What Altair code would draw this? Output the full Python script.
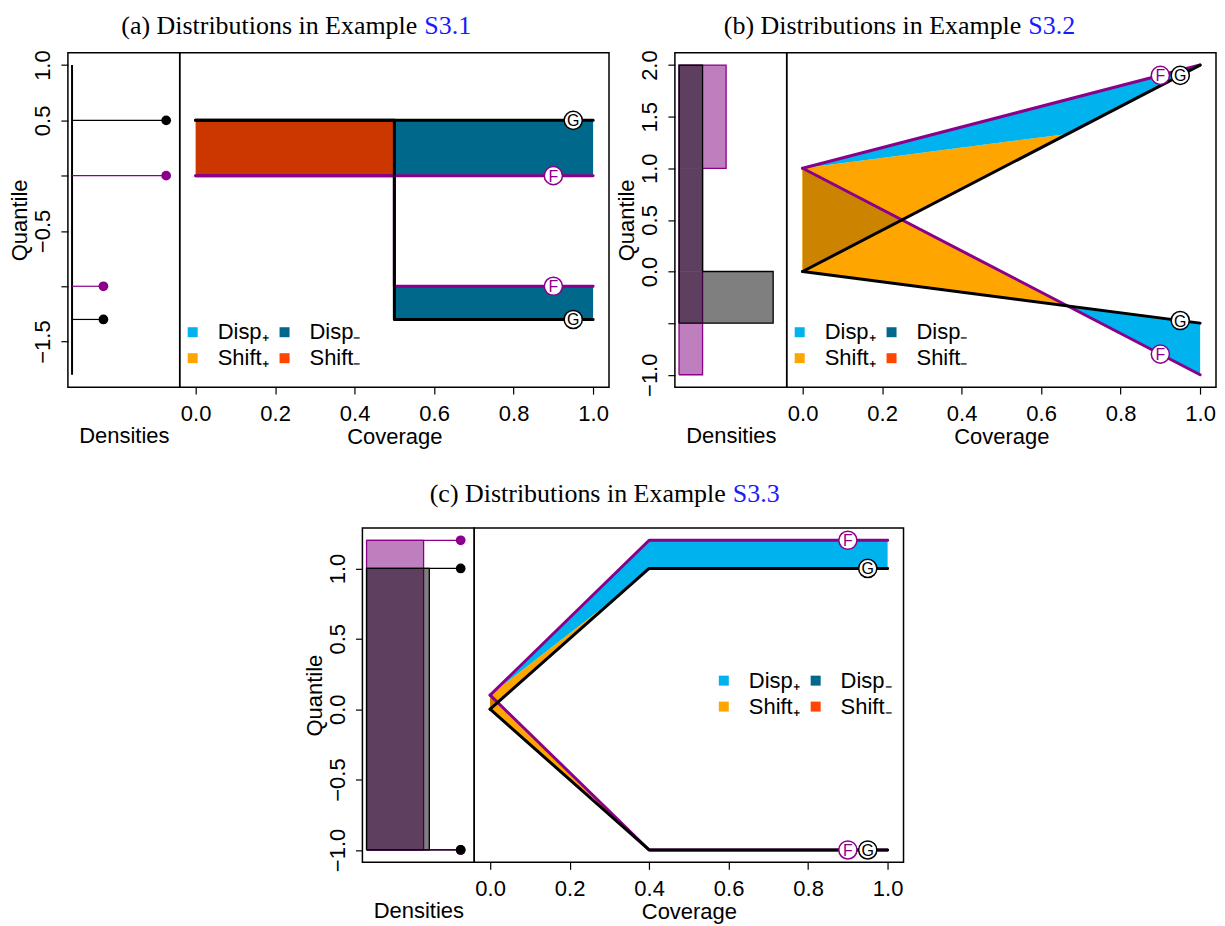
import altair as alt
import pandas as pd

FONT = "Liberation Sans"
SERIF = "Liberation Serif"
PURPLE = "#8b008b"
FILL_PURPLE = "#800080"
BLACK = "#000000"
BLUE = "#1a1aff"

KIND_NAMES = ["Disp₊", "Disp₋", "Shift₊", "Shift₋", "Shift₊ both", "Shift₋ both"]
KIND_COLORS = ["#00b2ee", "#00688b", "#ffa500", "#ff4500", "#cc8400", "#cc3700"]
LEGEND_KEYS = ["Disp₊", "Disp₋", "Shift₊", "Shift₋"]

COV_TICKS = [0.0, 0.2, 0.4, 0.6, 0.8, 1.0]
COV_DOMAIN = [-0.04, 1.04]
F_LABEL_COV = 0.9
G_LABEL_COV = 0.95

# ---------------- Panel (a) ----------------
A_TITLE = "(a) Distributions in Example"
A_REF = "S3.1"
A_YDOMAIN = [-1.912, 1.112]
A_YTICKS = [-1.5, -1.0, -0.5, 0.0, 0.5, 1.0]
A_YHIDDEN = [-1.0, 0.0]
A_F_CURVES = [([0, 1], [0, 0]), ([0, 0.5, 0.5, 1], [0, 0, -1, -1])]
A_G_CURVES = [([0, 1], [0.5, 0.5]), ([0, 0.5, 0.5, 1], [0.5, 0.5, -1.3, -1.3])]
A_REGIONS = [
    ("Shift₋ both", [0, 0.5], [0, 0], [0.5, 0.5]),
    ("Disp₋", [0.5, 1], [0, 0], [0.5, 0.5]),
    ("Disp₋", [0.5, 1], [-1.3, -1.3], [-1, -1]),
]
A_F_LABEL_Q = [0, -1]
A_G_LABEL_Q = [0.5, -1.3]
A_DENS_MAX = 0.825
A_BASELINE = [-1.8, 1.0]
A_F_ATOMS = [0.0, -1.0]
A_F_MASS = [0.75, 0.25]
A_G_ATOMS = [0.5, -1.3]
A_G_MASS = [0.75, 0.25]

# ---------------- Panel (b) ----------------
B_TITLE = "(b) Distributions in Example"
B_REF = "S3.2"
B_YDOMAIN = [-1.12, 2.12]
B_YTICKS = [-1.0, -0.5, 0.0, 0.5, 1.0, 1.5, 2.0]
B_YHIDDEN = [-0.5]
B_F_CURVES = [([0, 1], [1, 2]), ([0, 1], [1, -1])]
B_G_CURVES = [([0, 1], [0, 2]), ([0, 1], [0, -0.5])]
B_REGIONS = [
    ("Shift₊", [0, 2 / 3], [0, 4 / 3], [1, 4 / 3]),
    ("Shift₊", [0, 2 / 3], [0, -1 / 3], [1, -1 / 3]),
    ("Shift₊ both", [0, 0.25], [0, 0.5], [1, 0.5]),
    ("Disp₊", [0, 2 / 3, 1], [1, 4 / 3, 2], [1, 5 / 3, 2]),
    ("Disp₊", [2 / 3, 1], [-1 / 3, -1], [-1 / 3, -0.5]),
]
B_F_LABEL_Q = [1.9, -0.8]
B_G_LABEL_Q = [1.9, -0.475]
B_DENS_MAX = 1.1
B_F_BLOCKS = [(-1.0, 1.0, 0.25), (1.0, 2.0, 0.5)]
B_G_BLOCKS = [(-0.5, 0.0, 1.0), (0.0, 2.0, 0.25)]

# ---------------- Panel (c) ----------------
C_TITLE = "(c) Distributions in Example"
C_REF = "S3.3"
C_YDOMAIN = [-1.088, 1.288]
C_YTICKS = [-1.0, -0.5, 0.0, 0.5, 1.0]
C_YHIDDEN = []
C_F_CURVES = [([0, 0.4, 1], [0.1, 1.2, 1.2]), ([0, 0.4, 1], [0.1, -1, -1])]
C_G_CURVES = [([0, 0.4, 1], [0, 1, 1]), ([0, 0.4, 1], [0, -1, -1])]
C_REGIONS = [
    ("Shift₊", [0, 1 / 3], [0, 5 / 6], [0.1, 5 / 6]),
    ("Shift₊", [0, 0.4], [0, -1], [0.1, -1]),
    ("Shift₊ both", [0, 0.019], [0, 0.048], [0.1, 0.048]),
    ("Disp₊", [0, 1 / 3, 0.4, 1], [0.1, 5 / 6, 1.0, 1.0], [0.1, 1.017, 1.2, 1.2]),
]
C_F_LABEL_Q = [1.2, -1]
C_G_LABEL_Q = [1.0, -1]
C_DENS_MAX = 0.33
C_F_BLOCKS = [(-1.0, 1.2, 0.1818)]
C_G_BLOCKS = [(-1.0, 1.0, 0.2)]
C_F_ATOMS = [1.2, -1.0]
C_F_MASS = [0.3, 0.3]
C_G_ATOMS = [1.0, -1.0]
C_G_MASS = [0.3, 0.3]

DENS_W = 112
COV_W = 430
PANEL_H = 335
TITLE_SIZE = 26
AXIS_SIZE = 22


def yscale(ydom):
    return alt.Scale(domain=ydom, nice=False, zero=False)


def cov_chart(title, ref, title_xy, ydom, regions, f_curves, g_curves, f_lab, g_lab, legend_xy):
    xsc = alt.Scale(domain=COV_DOMAIN, nice=False, zero=False)
    xax = alt.Axis(values=COV_TICKS, format=".1f", title="Coverage", tickSize=7,
                   labelPadding=9, titlePadding=2, domain=False, grid=False,
                   labelFlush=False, labelOverlap=False)

    def X(f):
        return alt.X(f, scale=xsc, axis=xax)

    def Y(f):
        return alt.Y(f, scale=yscale(ydom), axis=None)

    rows = []
    for ri, (kind, cov, lo, hi) in enumerate(regions):
        for c, l, h in zip(cov, lo, hi):
            rows.append({"region": ri, "kind": kind, "cov": c, "lo": l, "hi": h})
    areas = alt.Chart(pd.DataFrame(rows)).mark_area(opacity=1, strokeWidth=0).encode(
        x=X("cov:Q"), y=Y("lo:Q"), y2="hi:Q",
        color=alt.Color("kind:N",
                        scale=alt.Scale(domain=KIND_NAMES, range=KIND_COLORS),
                        legend=alt.Legend(values=LEGEND_KEYS, title=None, columns=2,
                                          direction="horizontal", orient="none",
                                          legendX=legend_xy[0], legendY=legend_xy[1],
                                          symbolType="square", symbolSize=100,
                                          symbolStrokeWidth=0,
                                          labelFontSize=AXIS_SIZE, labelFont=FONT,
                                          labelOffset=14, columnPadding=4,
                                          rowPadding=4)),
        detail="region:N")

    def lines(curves, color):
        rr = []
        for si, (cov, q) in enumerate(curves):
            for i, (c, v) in enumerate(zip(cov, q)):
                rr.append({"seg": si, "i": i, "cov": c, "q": v})
        return alt.Chart(pd.DataFrame(rr)).mark_line(
            color=color, strokeWidth=3, strokeCap="round", strokeJoin="round").encode(
            x=X("cov:Q"), y=Y("q:Q"), detail="seg:N", order="i:Q")

    def labels(cov, qs, letter, color):
        df = pd.DataFrame({"cov": [cov] * len(qs), "q": qs})
        circ = alt.Chart(df).mark_circle(size=330, fill="white", stroke=color,
                                         strokeWidth=1.5, opacity=1).encode(
            x=X("cov:Q"), y=Y("q:Q"))
        txt = alt.Chart(df).mark_text(text=letter, color=color, fontSize=16, font=FONT,
                                      align="center", baseline="middle", dy=1).encode(
            x=X("cov:Q"), y=Y("q:Q"))
        return circ + txt

    tdf = pd.DataFrame({"t": [title], "r": [ref]})
    t1 = alt.Chart(tdf).mark_text(align="right", baseline="top", font=SERIF,
                                  fontSize=TITLE_SIZE, color=BLACK).encode(
        text="t:N", x=alt.value(title_xy[0]), y=alt.value(title_xy[1]))
    t2 = alt.Chart(tdf).mark_text(align="left", baseline="top", font=SERIF,
                                  fontSize=TITLE_SIZE, color=BLUE).encode(
        text="r:N", x=alt.value(title_xy[0] + 7), y=alt.value(title_xy[1]))

    return alt.layer(
        areas,
        lines(f_curves, PURPLE),
        lines(g_curves, BLACK),
        labels(F_LABEL_COV, f_lab, "F", PURPLE),
        labels(G_LABEL_COV, g_lab, "G", BLACK),
        t1, t2,
    ).properties(width=COV_W, height=PANEL_H)


def dens_chart(ydom, yticks, hidden, dmax, layers_spec):
    xsc = alt.Scale(domain=[-0.04 * dmax, 1.04 * dmax], nice=False, zero=False)
    xax = alt.Axis(title="Densities", labels=False, ticks=False, domain=False,
                   grid=False, titlePadding=38)
    cond = " || ".join(f"datum.value == {h}" for h in hidden) or "false"
    yax = alt.Axis(values=yticks,
                   labelExpr=f"({cond}) ? '' : replace(format(datum.value, '.1f'), '-', '\u2212')",
                   labelAngle=270, labelAlign="center", labelBaseline="alphabetic",
                   tickSize=7, labelPadding=11, title="Quantile", titlePadding=0,
                   grid=False, domain=False, labelFlush=False, labelOverlap=False)

    def X(f):
        return alt.X(f, scale=xsc, axis=xax)

    def Y(f):
        return alt.Y(f, scale=yscale(ydom), axis=yax)

    layers = []
    for kind, color, payload in layers_spec:
        if kind == "blocks":
            df = pd.DataFrame([{"x0": 0.0, "x1": d, "lo": lo, "hi": hi} for lo, hi, d in payload])
            fill = FILL_PURPLE if color == PURPLE else BLACK
            layers.append(alt.Chart(df).mark_rect(color=fill, opacity=0.5, strokeWidth=0).encode(
                x=X("x0:Q"), x2="x1:Q", y=Y("lo:Q"), y2="hi:Q"))
            # step outline built from the blocks
            pts = [(0.0, payload[0][0])]
            for lo, hi, d in payload:
                pts.append((d, lo))
                pts.append((d, hi))
            pts.append((0.0, payload[-1][1]))
            pts.append((0.0, payload[0][0]))
            odf = pd.DataFrame([{"i": i, "d": p[0], "q": p[1]} for i, p in enumerate(pts)])
            layers.append(alt.Chart(odf).mark_line(color=color, strokeWidth=1.3).encode(
                x=X("d:Q"), y=Y("q:Q"), order="i:Q"))
        elif kind == "atoms":
            atoms, mass = payload
            df = pd.DataFrame({"x0": [0.0] * len(atoms), "mass": mass, "atom": atoms})
            layers.append(alt.Chart(df).mark_rule(color=color, strokeWidth=1.2).encode(
                x=X("x0:Q"), x2="mass:Q", y=Y("atom:Q")))
            layers.append(alt.Chart(df).mark_circle(color=color, size=95, opacity=1).encode(
                x=X("mass:Q"), y=Y("atom:Q")))
        elif kind == "baseline":
            df = pd.DataFrame({"x0": [0.0], "lo": [payload[0]], "hi": [payload[1]]})
            layers.append(alt.Chart(df).mark_rule(color=color, strokeWidth=2).encode(
                x=X("x0:Q"), y=Y("lo:Q"), y2="hi:Q"))
    return alt.layer(*layers).properties(width=DENS_W, height=PANEL_H)


densA = dens_chart(A_YDOMAIN, A_YTICKS, A_YHIDDEN, A_DENS_MAX, [
    ("baseline", BLACK, A_BASELINE),
    ("atoms", PURPLE, (A_F_ATOMS, A_F_MASS)),
    ("atoms", BLACK, (A_G_ATOMS, A_G_MASS)),
])
covA = cov_chart(A_TITLE, A_REF, (238, -40), A_YDOMAIN, A_REGIONS, A_F_CURVES, A_G_CURVES,
                 A_F_LABEL_Q, A_G_LABEL_Q, (2, 269))

densB = dens_chart(B_YDOMAIN, B_YTICKS, B_YHIDDEN, B_DENS_MAX, [
    ("blocks", PURPLE, B_F_BLOCKS),
    ("blocks", BLACK, B_G_BLOCKS),
])
covB = cov_chart(B_TITLE, B_REF, (235, -40), B_YDOMAIN, B_REGIONS, B_F_CURVES, B_G_CURVES,
                 B_F_LABEL_Q, B_G_LABEL_Q, (2, 269))

densC = dens_chart(C_YDOMAIN, C_YTICKS, C_YHIDDEN, C_DENS_MAX, [
    ("blocks", PURPLE, C_F_BLOCKS),
    ("blocks", BLACK, C_G_BLOCKS),
    ("atoms", PURPLE, (C_F_ATOMS, C_F_MASS)),
    ("atoms", BLACK, (C_G_ATOMS, C_G_MASS)),
])
covC = cov_chart(C_TITLE, C_REF, (252, -47), C_YDOMAIN, C_REGIONS, C_F_CURVES, C_G_CURVES,
                 C_F_LABEL_Q, C_G_LABEL_Q, (239, 142))

panelA = alt.hconcat(densA, covA, spacing=0, bounds="flush").resolve_scale(color="independent")
panelB = alt.hconcat(densB, covB, spacing=0, bounds="flush").resolve_scale(color="independent")
panelC = alt.hconcat(densC, covC, spacing=0, bounds="flush").resolve_scale(color="independent")
top = alt.hconcat(panelA, panelB, spacing=5).resolve_scale(color="independent")

spacer = alt.Chart(pd.DataFrame({"v": [0]})).mark_point(opacity=0).properties(
    width=234, height=1, view=alt.ViewBackground(stroke="transparent"))
bottom = alt.hconcat(spacer, panelC, spacing=0).resolve_scale(color="independent")

chart = alt.vconcat(top, bottom, spacing=32).resolve_scale(
    color="independent"
).properties(
    padding={"left": 0, "top": 3, "right": 0, "bottom": 0}
).configure_view(
    stroke=BLACK, strokeWidth=1.5
).configure_axis(
    labelFont=FONT, titleFont=FONT, labelFontSize=AXIS_SIZE, titleFontSize=AXIS_SIZE,
    labelColor=BLACK, titleColor=BLACK, titleFontWeight="normal",
    tickColor=BLACK, tickWidth=1.2
).configure_legend(
    labelColor=BLACK
)

chart.save("out.html", embed_options={"renderer": "svg", "actions": False})
